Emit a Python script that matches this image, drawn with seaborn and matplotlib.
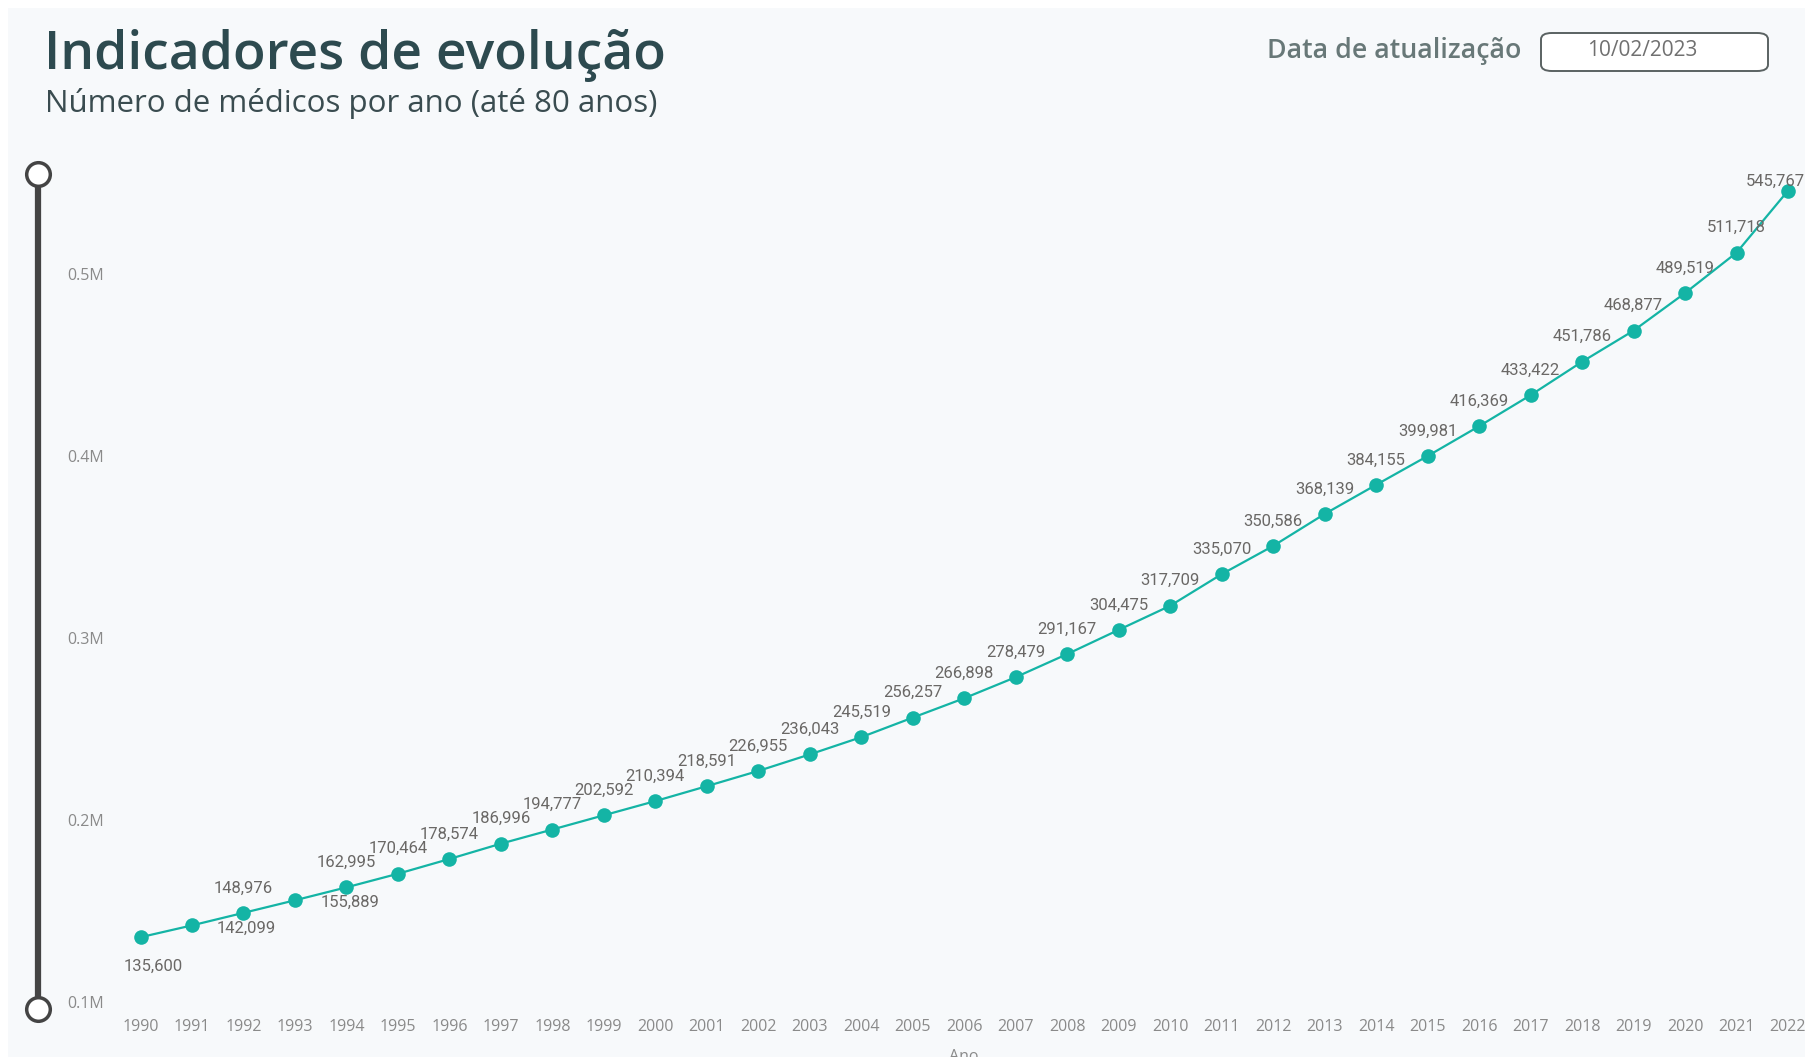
import matplotlib
matplotlib.use("Agg")
import matplotlib.pyplot as plt
import seaborn as sns
import pandas as pd
from matplotlib.patches import FancyBboxPatch, Rectangle
from matplotlib.lines import Line2D

# ---------------- data ----------------
years = list(range(1990, 2023))
medicos = [135600, 142099, 148976, 155889, 162995, 170464, 178574, 186996,
           194777, 202592, 210394, 218591, 226955, 236043, 245519, 256257,
           266898, 278479, 291167, 304475, 317709, 335070, 350586, 368139,
           384155, 399981, 416369, 433422, 451786, 468877, 489519, 511718,
           545767]
y_ticks = [100000, 200000, 300000, 400000, 500000]
y_tick_labels = ["0.1M", "0.2M", "0.3M", "0.4M", "0.5M"]
x_tick_labels = [str(y) for y in years]

title = "Indicadores de evolução"
subtitle = "Número de médicos por ano (até 80 anos)"
update_label = "Data de atualização"
update_date = "10/02/2023"
x_label = "Ano"

# ---------------- style ----------------
W, H = 1806, 1057
BG = "#f7f9fb"
TEAL = "#14b4a5"
LABEL_C = "#6a6866"
TICK_C = "#8a8a8a"
OPEN = ["Open Sans", "DejaVu Sans"]

sns.set_theme(style="white")
plt.rcParams["font.family"] = ["Open Sans", "DejaVu Sans"]

fig = plt.figure(figsize=(W / 100, H / 100), dpi=100)
fig.patch.set_facecolor("white")
fig.patches.append(Rectangle((8 / W, 0), 1 - 8 / W, 1 - 8 / H, transform=fig.transFigure,
                             facecolor=BG, edgecolor="none", zorder=-5))

def fx(px):
    return px / W

def fy(py):
    return 1 - py / H

# axes placed so that 1990 -> x=140.5px, 2022 -> x=1788px, 0.1M -> y=1002px, 0.5M -> y=274px
ax = fig.add_axes([fx(140.5), fy(1002), fx(1788) - fx(140.5), (1002 - 274) / H])
ax.set_facecolor("none")
ax.set_zorder(2)

df = pd.DataFrame({"Ano": years, "Medicos": medicos})
sns.lineplot(data=df, x="Ano", y="Medicos", ax=ax, color=TEAL, linewidth=1.6,
             marker="o", markersize=10.5, markeredgewidth=0, markerfacecolor=TEAL)
for ln in ax.lines:
    ln.set_clip_on(False)

ax.set_xlim(years[0], years[-1])
ax.set_ylim(y_ticks[0], y_ticks[-1])
for s in ax.spines.values():
    s.set_visible(False)
ax.grid(False)

ax.set_xticks(years)
ax.set_xticklabels(x_tick_labels, fontsize=11.5, color=TICK_C, family=OPEN)
ax.set_yticks(y_ticks)
ax.set_yticklabels(y_tick_labels, fontsize=11.5, color=TICK_C, family=OPEN)
ax.tick_params(axis="x", length=0, pad=12.5)
ax.tick_params(axis="y", length=0, pad=53)
for lab in ax.get_yticklabels():
    lab.set_horizontalalignment("left")
ax.set_xlabel(x_label, fontsize=11.5, color=TICK_C, labelpad=10, family=OPEN)
ax.set_ylabel("")

# data labels (pixel offsets from point; Power BI style placement)
label_offsets = {0: (13, -29), 1: (54, -3), 3: (55, -2), len(years) - 1: (-13, 9)}
for i, (x, v) in enumerate(zip(years, medicos)):
    dx, dy = label_offsets.get(i, (0, 25))
    ax.annotate(f"{v:,}", (x, v), xytext=(dx, dy), textcoords="offset pixels",
                ha="center", va="center", fontsize=12, color=LABEL_C,
                family=["Roboto", "DejaVu Sans"], fontweight="normal",
                annotation_clip=False, clip_on=False)

# titles
fig.text(fx(44), fy(69), title, fontsize=38.5, fontweight="semibold", color="#2d4a4f",
         ha="left", va="baseline", family=OPEN)
fig.text(fx(45), fy(112), subtitle, fontsize=22.5, color="#3a4c50",
         ha="left", va="baseline", family=OPEN)

# update date
fig.text(fx(1521), fy(51), update_label, fontsize=19.3, fontweight="semibold", color="#687878",
         ha="right", va="center", family=OPEN)
box = FancyBboxPatch((fx(1541), fy(71)), fx(1768) - fx(1541), (71 - 33) / H,
                     boxstyle="round,pad=0,rounding_size=0.006", transform=fig.transFigure,
                     facecolor="white", edgecolor="#5a6262", linewidth=1.4, zorder=1)
fig.patches.append(box)
fig.text(fx(1642), fy(51), update_date, fontsize=15, color="#707070",
         ha="center", va="center", family=OPEN, zorder=5)

# slider decoration
fig.add_artist(Line2D([fx(38), fx(38)], [fy(174), fy(1009)], color="#444444",
                      linewidth=4.5, transform=fig.transFigure, solid_capstyle="butt"))
for cy in (174, 1009):
    fig.add_artist(Line2D([fx(38)], [fy(cy)], marker="o", markersize=17,
                          markerfacecolor="white", markeredgecolor="#444444",
                          markeredgewidth=2.5, transform=fig.transFigure))

fig.savefig("out.png", dpi=100, facecolor=fig.get_facecolor())
